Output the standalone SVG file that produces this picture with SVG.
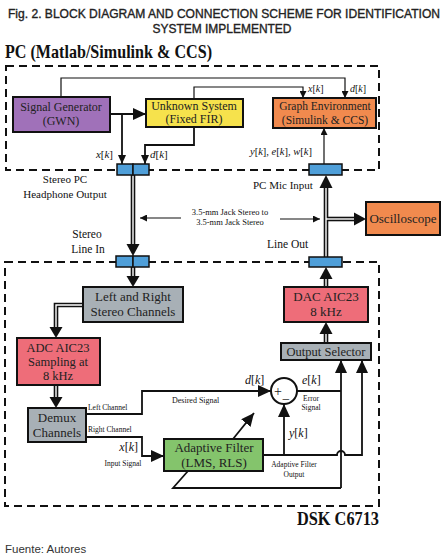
<svg xmlns="http://www.w3.org/2000/svg" width="448" height="558" viewBox="0 0 448 558">
<defs>
<style>
.bx{stroke:#111;stroke-width:2}
.t{font-family:"Liberation Serif",serif;fill:#222;text-anchor:middle}
.s{font-family:"Liberation Serif",serif;fill:#111}
.ln{fill:none;stroke:#111;stroke-width:1.8}
.thin{fill:none;stroke:#111;stroke-width:1.2}
.dash{fill:none;stroke:#111;stroke-width:2;stroke-dasharray:8,5}
.dk{fill:none;stroke:#111;stroke-width:4.6}
.dw{fill:none;stroke:#fff;stroke-width:1.4}
.con{fill:#4f9fd9;stroke:#111;stroke-width:1.5}
.i{font-style:italic}
.ttl{font-family:"Liberation Sans",sans-serif;font-size:12px;fill:#222;stroke:#222;stroke-width:0.35;text-anchor:middle}
</style>
<marker id="big" markerUnits="userSpaceOnUse" markerWidth="13" markerHeight="12" refX="13" refY="6" orient="auto"><path d="M0,0 L13,6 L0,12 z" fill="#111"/></marker>
<marker id="sm" markerUnits="userSpaceOnUse" markerWidth="9" markerHeight="8" refX="9" refY="4" orient="auto"><path d="M0,0 L9,4 L0,8 z" fill="#111"/></marker>
<marker id="tiny" markerUnits="userSpaceOnUse" markerWidth="7" markerHeight="7" refX="7" refY="3.5" orient="auto"><path d="M0,0 L7,3.5 L0,7 z" fill="#111"/></marker>
</defs>
<rect width="448" height="558" fill="#fff"/>

<text class="ttl" x="224" y="18" textLength="432" lengthAdjust="spacingAndGlyphs">Fig. 2. BLOCK DIAGRAM AND CONNECTION SCHEME FOR IDENTIFICATION</text>
<text class="ttl" x="222" y="33" textLength="139" lengthAdjust="spacingAndGlyphs">SYSTEM IMPLEMENTED</text>

<text x="5" y="58" font-family="Liberation Serif,serif" font-size="19" font-weight="bold" fill="#111" textLength="207" lengthAdjust="spacingAndGlyphs">PC (Matlab/Simulink &amp; CCS)</text>

<g id="boundaries">
<path class="dash" d="M6,66 H379 V170 H6 Z"/>
<path class="dash" d="M5,262 H379 V506 H5 Z"/>
</g>

<g id="connectors">
<path class="thin" d="M61,97 V78 H345 V98" marker-end="url(#tiny)"/>
<path class="thin" d="M194,99 V87 H303 V98" marker-end="url(#tiny)"/>
<path class="ln" d="M110,114 H146" marker-end="url(#big)"/>
<path class="ln" d="M122,114 V164" marker-end="url(#sm)"/>
<path class="ln" d="M194,127 V145 H145 V164" marker-end="url(#sm)"/>
<path class="thin" d="M324,164 V128" marker-end="url(#tiny)"/>

<path class="dk" d="M133,175 V245"/>
<path class="dk" d="M133,267 V277"/>
<path class="dk" d="M83,305 H56 V328"/>
<path class="dk" d="M56,385 V398"/>
<path class="dk" d="M326,343 V333"/>
<path class="dk" d="M326,287 V278"/>
<path class="dk" d="M326,257 V188"/>
<path class="dk" d="M326,219 H355"/>
<path class="dw" d="M133,175 V246"/>
<path class="dw" d="M133,267 V278"/>
<path class="dw" d="M83,305 H56 V329"/>
<path class="dw" d="M56,385 V399"/>
<path class="dw" d="M326,343 V332"/>
<path class="dw" d="M326,287 V277"/>
<path class="dw" d="M326,257 V187"/>
<path class="dw" d="M326,219 H356"/>
<polygon points="133,256 126.5,244 139.5,244" fill="#111"/>
<polygon points="133,287 126.5,276 139.5,276" fill="#111"/>
<polygon points="56,338 49.5,327 62.5,327" fill="#111"/>
<polygon points="56,408 49.5,397 62.5,397" fill="#111"/>
<polygon points="326,322 319.5,334 332.5,334" fill="#111"/>
<polygon points="326,267 319.5,279 332.5,279" fill="#111"/>
<polygon points="326,175 319.5,188 332.5,188" fill="#111"/>
<polygon points="366,219 354,212.5 354,225.5" fill="#111"/>

<path class="thin" d="M181,218 H140" marker-end="url(#tiny)"/>
<path class="thin" d="M280,219 H320" marker-end="url(#tiny)"/>

<path class="ln" d="M86,414 H142 V391 H271" marker-end="url(#big)"/>
<path class="ln" d="M86,437 H142 V456 H164" marker-end="url(#big)"/>
<path class="ln" d="M297,391 H341"/>
<path class="ln" d="M341,488 V360" marker-end="url(#big)"/>
<path class="ln" d="M341,488 H173 L188,471"/>
<path class="ln" d="M263,455 H337 A4,4 0 0 1 345,455 H362 V360" marker-end="url(#big)"/>
<path class="ln" d="M284,455 V404" marker-end="url(#big)"/>
<path class="ln" d="M233,439 L254,413" marker-end="url(#big)"/>
</g>

<g id="sigGen"><rect class="bx" x="13" y="97" width="97" height="35" fill="#a071b9"/>
<text class="t" x="61" y="111" font-size="12">Signal Generator</text><text class="t" x="61" y="125" font-size="12">(GWN)</text></g>

<g id="unknown"><rect class="bx" x="146" y="99" width="97" height="28" fill="#f6e24c"/>
<text class="t" x="194" y="110" font-size="12">Unknown System</text><text class="t" x="194" y="123" font-size="12">(Fixed FIR)</text></g>

<g id="graphEnv"><rect class="bx" x="273" y="98" width="103" height="30" fill="#f18a4e"/>
<text class="t" x="325" y="110" font-size="11.5">Graph Environment</text><text class="t" x="325" y="124" font-size="11.5">(Simulink  &amp; CCS)</text></g>

<g id="hpOut"><rect class="con" x="117" y="164" width="16" height="11"/><rect class="con" x="133" y="164" width="16" height="11"/></g>
<g id="micIn"><rect class="con" x="309" y="164" width="33" height="11"/></g>
<g id="lineIn"><rect class="con" x="116" y="256" width="17" height="11"/><rect class="con" x="133" y="256" width="16" height="11"/></g>
<g id="lineOut"><rect class="con" x="309" y="257" width="33" height="10"/></g>

<g id="osc"><rect class="bx" x="366" y="202" width="74" height="33" fill="#f18a4e"/>
<text class="t" x="403" y="223" font-size="13">Oscilloscope</text></g>

<g id="lrStereo"><rect class="bx" x="83" y="287" width="100" height="35" fill="#a8b0b6"/>
<text class="t" x="133" y="301" font-size="13">Left and Right</text><text class="t" x="133" y="316" font-size="13">Stereo Channels</text></g>

<g id="adc"><rect class="bx" x="17" y="338" width="83" height="47" fill="#ee6d79"/>
<text class="t" x="58" y="352" font-size="12.5">ADC AIC23</text><text class="t" x="58" y="366" font-size="12.5">Sampling at</text><text class="t" x="58" y="380" font-size="12.5">8 kHz</text></g>

<g id="demux"><rect class="bx" x="28" y="408" width="58" height="34" fill="#a8b0b6"/>
<text class="t" x="57" y="422" font-size="13">Demux</text><text class="t" x="57" y="437" font-size="13">Channels</text></g>

<g id="adaptive"><rect class="bx" x="164" y="439" width="99" height="32" fill="#84c46c"/>
<text class="t" x="214" y="452" font-size="13">Adaptive Filter</text><text class="t" x="214" y="467" font-size="13">(LMS, RLS)</text></g>

<g id="summer"><circle cx="284" cy="391" r="13" fill="#fff" stroke="#111" stroke-width="2"/>
<text class="t" x="278" y="396" font-size="14">+</text><text class="t" x="286" y="404" font-size="14">−</text></g>

<g id="dac"><rect class="bx" x="284" y="287" width="84" height="35" fill="#ee6d79"/>
<text class="t" x="326" y="301" font-size="13">DAC AIC23</text><text class="t" x="326" y="316" font-size="13">8 kHz</text></g>

<g id="outSel"><rect class="bx" x="281" y="343" width="90" height="17" fill="#a8b0b6"/>
<text class="t" x="326" y="356" font-size="12.5">Output Selector</text></g>

<g id="labels">
<text class="s" x="308" y="92" font-size="10"><tspan class="i">x</tspan>[<tspan class="i">k</tspan>]</text>
<text class="s" x="350" y="92" font-size="10"><tspan class="i">d</tspan>[<tspan class="i">k</tspan>]</text>
<text class="s" x="113" y="158" font-size="11" text-anchor="end"><tspan class="i">x</tspan>[<tspan class="i">k</tspan>]</text>
<text class="s" x="150" y="158" font-size="11"><tspan class="i">d</tspan>[<tspan class="i">k</tspan>]</text>
<text class="s" x="250" y="155" font-size="10.5"><tspan class="i">y</tspan>[<tspan class="i">k</tspan>], <tspan class="i">e</tspan>[<tspan class="i">k</tspan>], <tspan class="i">w</tspan>[<tspan class="i">k</tspan>]</text>
<text class="s" x="65" y="183" font-size="11" text-anchor="middle">Stereo PC</text>
<text class="s" x="65" y="198" font-size="11" text-anchor="middle">Headphone Output</text>
<text class="s" x="253" y="189" font-size="11">PC Mic Input</text>
<text class="s" x="230" y="215" font-size="8.5" text-anchor="middle">3.5-mm Jack Stereo to</text>
<text class="s" x="230" y="225" font-size="8.5" text-anchor="middle">3.5-mm Jack Stereo</text>
<text class="s" x="87" y="238" font-size="11.5" text-anchor="middle">Stereo</text>
<text class="s" x="88" y="253" font-size="11.5" text-anchor="middle">Line In</text>
<text class="s" x="267" y="248" font-size="11.5">Line Out</text>
<text class="s" x="88" y="410" font-size="7.5">Left Channel</text>
<text class="s" x="88" y="432" font-size="7.5">Right Channel</text>
<text class="s" x="172" y="403" font-size="8">Desired Signal</text>
<text class="s" x="245" y="384" font-size="12"><tspan class="i">d</tspan>[<tspan class="i">k</tspan>]</text>
<text class="s" x="302" y="384" font-size="12"><tspan class="i">e</tspan>[<tspan class="i">k</tspan>]</text>
<text class="s" x="311" y="401" font-size="7.5" text-anchor="middle">Error</text>
<text class="s" x="311" y="410" font-size="7.5" text-anchor="middle">Signal</text>
<text class="s" x="289" y="437" font-size="12"><tspan class="i">y</tspan>[<tspan class="i">k</tspan>]</text>
<text class="s" x="138" y="451" font-size="12" text-anchor="end"><tspan class="i">x</tspan>[<tspan class="i">k</tspan>]</text>
<text class="s" x="123" y="466" font-size="7.5" text-anchor="middle">Input Signal</text>
<text class="s" x="294" y="467" font-size="7.5" text-anchor="middle">Adaptive Filter</text>
<text class="s" x="294" y="477" font-size="7.5" text-anchor="middle">Output</text>
</g>

<text x="379" y="525" font-family="Liberation Serif,serif" font-size="18" font-weight="bold" fill="#111" text-anchor="end" textLength="82" lengthAdjust="spacingAndGlyphs">DSK C6713</text>
<text x="5" y="553" font-family="Liberation Sans,sans-serif" font-size="11.5" fill="#333">Fuente: Autores</text>
</svg>
